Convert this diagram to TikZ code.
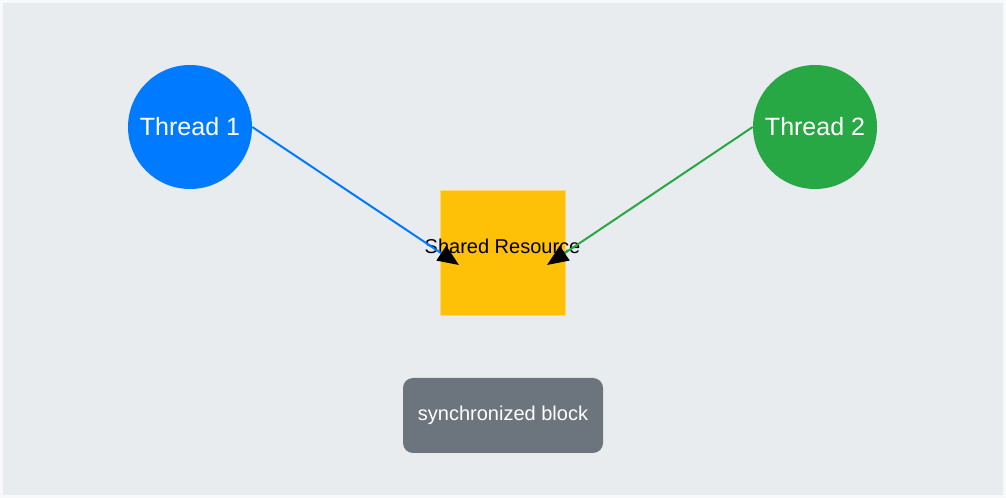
\documentclass[tikz,border=0pt]{standalone}
\usepackage{fontspec}
\setmainfont{Liberation Sans}
\usetikzlibrary{arrows.meta}

\definecolor{pagebg}{HTML}{F8F9FA}
\definecolor{panelbg}{HTML}{E9ECEF}
\definecolor{threadblue}{HTML}{007BFF}
\definecolor{threadgreen}{HTML}{28A745}
\definecolor{resyellow}{HTML}{FFC107}
\definecolor{syncgray}{HTML}{6C757D}

\tikzset{
    thread/.style={circle, minimum size=93pt, inner sep=0pt, text=white, font=\fontsize{18.75pt}{21pt}\selectfont},
    resbox/.style={rectangle, fill=resyellow, draw=resyellow!60!white, line width=0.4pt, minimum size=93.75pt, inner sep=0pt},
    syncbox/.style={rectangle, rounded corners=7.5pt, fill=syncgray, minimum width=150pt, minimum height=56.25pt, text=white, font=\fontsize{15pt}{17pt}\selectfont},
    link/.style={line width=1.5pt, -{Triangle[length=16pt, width=13pt, black]}}
}

\begin{document}
\begin{tikzpicture}[x=0.75pt, y=-0.75pt]

    % Sfondo
    \fill[pagebg] (0,0) rectangle (1006,498);
    \fill[panelbg] (3,3) rectangle (1003,495);
    \useasboundingbox (0,0) rectangle (1006,498);

    % Thread
    \node[thread, fill=threadblue]  (t1) at (190,127) {Thread 1};
    \node[thread, fill=threadgreen] (t2) at (815,127) {Thread 2};

    % Risorsa condivisa
    \node[resbox] (res) at (502.5,252.5) {};
    \node[font=\fontsize{15pt}{17pt}\selectfont] (reslabel) at ([yshift=4.5pt]res.center) {Shared Resource};

    % Blocco synchronized
    \node[syncbox] (sync) at (503,415.5) {synchronized block};

    % Frecce verso la risorsa
    \coordinate (tip1) at (459,265);
    \coordinate (tip2) at (547,265);

    \draw[link, threadblue]
        (t1.east) -- (tip1);

    \draw[link, threadgreen]
        (t2.west) -- (tip2);

\end{tikzpicture}
\end{document}
